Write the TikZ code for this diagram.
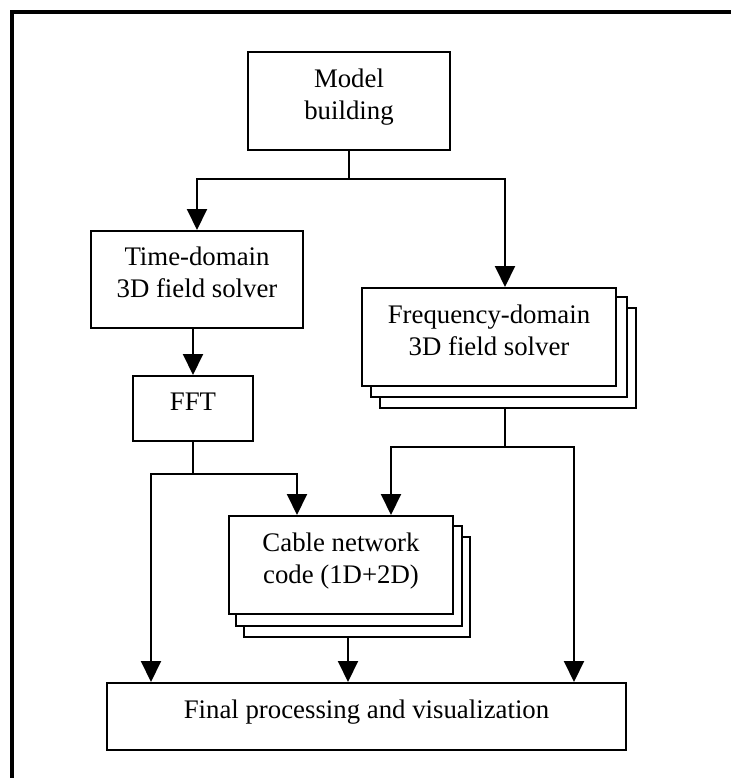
\documentclass[tikz,border=0pt]{standalone}
\usepackage{fontspec}
\setmainfont{Liberation Serif}
\usetikzlibrary{arrows.meta,backgrounds,calc}

% box text: one or more centred lines, sitting slightly above the box centre
\newcommand\boxlines[1]{\raisebox{-2pt}[0pt][0pt]{\begin{tabular}{@{}c@{}}#1\end{tabular}}}

\tikzset{
  flowbox/.style={draw, line width=2pt, fill=white, inner sep=0pt,
                  font=\fontsize{26.8}{32}\selectfont},
  stackcopy/.style={draw, line width=2pt, fill=white},
  link/.style={line width=2pt},
  arrowlink/.style={link, -{Triangle[length=21pt,width=20pt]}},
}

\begin{document}
\begin{tikzpicture}[x=1pt,y=-1pt]
  \useasboundingbox (0,0) rectangle (730,778);
  % outer frame, running off the page on the right and bottom
  \draw[line width=4pt] (12,12) rectangle (760,800);

  % process boxes
  \node[flowbox, minimum width=202pt, minimum height=98pt] (model) at (349,101)
    {\boxlines{Model\\building}};
  \node[flowbox, minimum width=212pt, minimum height=97pt] (time) at (197,279.5)
    {\boxlines{Time-domain\\3D field solver}};
  \node[flowbox, minimum width=254pt, minimum height=98pt] (freq) at (489,337)
    {\boxlines{Frequency-domain\\3D field solver}};
  \node[flowbox, minimum width=120pt, minimum height=65pt] (fft) at (193,408.5)
    {\boxlines{FFT}};
  \node[flowbox, minimum width=224pt, minimum height=98pt] (cable) at (341,565)
    {\boxlines{Cable network\\code (1D+2D)}};
  \node[flowbox, minimum width=519pt, minimum height=67pt] (final) at (366.5,716.5)
    {\boxlines{Final processing and visualization}};

  % stacked copies behind the multi-instance boxes
  \begin{scope}[on background layer]
    \draw[stackcopy] ($(freq.north west)+(19,21)$) rectangle ($(freq.south east)+(19,21)$);
    \draw[stackcopy] ($(freq.north west)+(10,10)$) rectangle ($(freq.south east)+(10,10)$);
    \draw[stackcopy] ($(cable.north west)+(16,22)$) rectangle ($(cable.south east)+(16,22)$);
    \draw[stackcopy] ($(cable.north west)+(8,11)$) rectangle ($(cable.south east)+(8,11)$);
  \end{scope}

  % branch points
  \coordinate (split) at ($(model.south)+(0,28)$);
  \coordinate (fftsplit) at ($(fft.south)+(0,32)$);
  \coordinate (freqfoot) at ($(freq.south)+(16,21)$);
  \coordinate (freqsplit) at ($(freq.south)+(16,60)$);
  \coordinate (cablefoot) at ($(cable.south)+(7,22)$);

  % connectors
  \draw[link] (model.south) -- (split);
  \draw[arrowlink] (split) -| (time.north);
  \draw[arrowlink] (split) -| ([xshift=16pt]freq.north);
  \draw[arrowlink] (time.south -| fft.north) -- (fft.north);
  \draw[link] (fft.south) -- (fftsplit);
  \draw[arrowlink] (fftsplit) -| ([xshift=45pt]final.north west);
  \draw[arrowlink] (fftsplit) -| ([xshift=69pt]cable.north west);
  \draw[link] (freqfoot) -- (freqsplit);
  \draw[arrowlink] (freqsplit) -| ([xshift=163pt]cable.north west);
  \draw[arrowlink] (freqsplit) -| ([xshift=468pt]final.north west);
  \draw[arrowlink] (cablefoot) -- (cablefoot |- final.north);
\end{tikzpicture}
\end{document}
